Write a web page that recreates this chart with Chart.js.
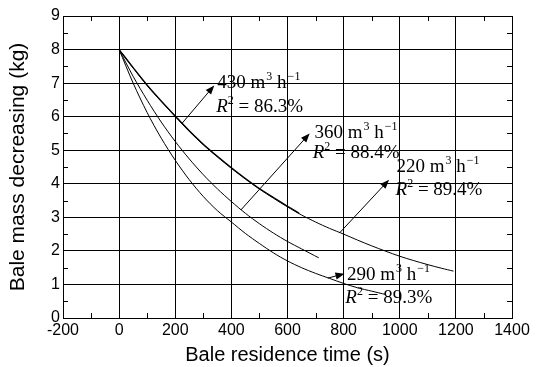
<!DOCTYPE html>
<html>
<head>
<meta charset="utf-8">
<script src="https://cdn.jsdelivr.net/npm/chart.js@4"></script>
<style>html,body{margin:0;padding:0;background:#fff}</style>
</head>
<body>
<canvas id="chart" width="547" height="367"></canvas>
<script>
// residence time (s) and bale mass (kg)
const time220 = [0, 50, 100, 150, 200, 250, 300, 350, 400, 450, 500, 550, 600, 650, 700, 750, 800, 850, 900, 950, 1000, 1050, 1100, 1150, 1190];
const mass220 = [8.0, 7.45, 6.92, 6.45, 6.0, 5.56, 5.16, 4.8, 4.46, 4.14, 3.84, 3.57, 3.31, 3.07, 2.86, 2.67, 2.5, 2.32, 2.15, 1.99, 1.84, 1.71, 1.59, 1.48, 1.4];

const time430 = [0, 50, 100, 150, 200, 250, 300, 350, 400, 450, 500, 550, 600, 640];
const mass430 = [8.0, 7.46, 6.94, 6.47, 6.02, 5.58, 5.18, 4.82, 4.48, 4.16, 3.86, 3.59, 3.33, 3.13];

const time360 = [0, 50, 100, 150, 200, 250, 300, 350, 400, 450, 500, 550, 600, 650, 710];
const mass360 = [8.0, 7.2, 6.49, 5.84, 5.26, 4.74, 4.27, 3.85, 3.47, 3.12, 2.81, 2.53, 2.28, 2.06, 1.8];

const time290 = [0, 50, 100, 150, 200, 250, 300, 350, 400, 450, 500, 550, 600, 650, 700, 750, 800, 850, 900, 950];
const mass290 = [8.0, 7.0, 6.12, 5.36, 4.7, 4.12, 3.62, 3.2, 2.86, 2.52, 2.22, 1.94, 1.7, 1.5, 1.33, 1.18, 1.03, 0.9, 0.8, 0.7];

const xTicks = [-200, 0, 200, 400, 600, 800, 1000, 1200, 1400];
const yTicks = [0, 1, 2, 3, 4, 5, 6, 7, 8, 9];

// labels: flow rate, R², arrow tail (on curve), arrow head, text anchor, R² anchor
const notes = [
  { rate: '430', r2: '86.3%', tail: [225, 5.81], head: [339, 6.93], text: [350, 6.85], r2at: [346, 6.15] },
  { rate: '360', r2: '88.4%', tail: [434, 3.22], head: [679, 5.5], text: [696, 5.37], r2at: [690, 4.77] },
  { rate: '220', r2: '89.4%', tail: [786, 2.54], head: [962, 4.12], text: [988, 4.36], r2at: [985, 3.67] },
  { rate: '290', r2: '89.3%', tail: [744, 1.19], head: [803, 1.32], text: [812, 1.14], r2at: [806, 0.45] }
];

const pts = (xs, ys) => xs.map((x, i) => ({ x: x, y: ys[i] }));

const serif = '"Liberation Serif", "Times New Roman", serif';
const sans = 'Liberation Sans, Arial, sans-serif';

function drawNotes(chart) {
  const ctx = chart.ctx;
  const xs = chart.scales.x, ys = chart.scales.y;
  const P = p => [xs.getPixelForValue(p[0]), ys.getPixelForValue(p[1])];
  ctx.save();
  ctx.fillStyle = '#000';
  ctx.strokeStyle = '#000';
  ctx.lineWidth = 1;
  ctx.textBaseline = 'alphabetic';
  notes.forEach(n => {
    const [tx, ty] = P(n.tail), [hx, hy] = P(n.head);
    const a = Math.atan2(hy - ty, hx - tx);
    ctx.beginPath();
    ctx.moveTo(tx, ty);
    ctx.lineTo(hx - 6 * Math.cos(a), hy - 6 * Math.sin(a));
    ctx.stroke();
    ctx.beginPath();
    ctx.moveTo(hx, hy);
    ctx.lineTo(hx - 9 * Math.cos(a) + 3.5 * Math.sin(a), hy - 9 * Math.sin(a) - 3.5 * Math.cos(a));
    ctx.lineTo(hx - 9 * Math.cos(a) - 3.5 * Math.sin(a), hy - 9 * Math.sin(a) + 3.5 * Math.cos(a));
    ctx.closePath();
    ctx.fill();

    let [x, y] = P(n.text);
    ctx.font = '19px ' + serif;
    let s = n.rate + ' m';
    ctx.fillText(s, x, y); x += ctx.measureText(s).width + 1;
    ctx.font = '12px ' + serif;
    ctx.fillText('3', x, y - 8); x += ctx.measureText('3').width;
    ctx.font = '19px ' + serif;
    ctx.fillText(' h', x, y); x += ctx.measureText(' h').width + 1;
    ctx.font = '12px ' + serif;
    ctx.fillText('\u22121', x, y - 8);

    [x, y] = P(n.r2at);
    ctx.font = 'italic 19px ' + serif;
    ctx.fillText('R', x, y); x += ctx.measureText('R').width;
    ctx.font = '12px ' + serif;
    ctx.fillText('2', x, y - 8); x += ctx.measureText('2').width;
    ctx.font = '19px ' + serif;
    ctx.fillText(' = ' + n.r2, x, y);
  });
  ctx.restore();
}

// short inward minor ticks on all four sides
function drawMinor(chart) {
  const ctx = chart.ctx, a = chart.chartArea;
  const xs = chart.scales.x, ys = chart.scales.y;
  ctx.save();
  ctx.strokeStyle = '#000';
  ctx.lineWidth = 1;
  ctx.beginPath();
  for (let v = -100; v < 1400; v += 200) {
    const p = Math.round(xs.getPixelForValue(v)) + 0.5;
    ctx.moveTo(p, a.bottom); ctx.lineTo(p, a.bottom - 5);
    ctx.moveTo(p, a.top); ctx.lineTo(p, a.top + 5);
  }
  for (let v = 0.5; v < 9; v += 1) {
    const p = Math.round(ys.getPixelForValue(v)) + 0.5;
    ctx.moveTo(a.left, p); ctx.lineTo(a.left + 5, p);
    ctx.moveTo(a.right, p); ctx.lineTo(a.right - 5, p);
  }
  ctx.stroke();
  ctx.restore();
}

const line = (data, w) => ({
  data: data, borderColor: '#000', borderWidth: w, pointRadius: 0,
  fill: false, tension: 0.3, borderCapStyle: 'round'
});

new Chart(document.getElementById('chart'), {
  type: 'line',
  data: {
    datasets: [
      line(pts(time220, mass220), 1),
      line(pts(time430, mass430), 1.3),
      line(pts(time360, mass360), 1),
      line(pts(time290, mass290), 1)
    ]
  },
  options: {
    responsive: false,
    animation: false,
    layout: { padding: { left: 0, right: 35, top: 16, bottom: 0 } },
    plugins: { legend: { display: false }, tooltip: { enabled: false } },
    scales: {
      x: {
        type: 'linear', min: -200, max: 1400,
        afterBuildTicks: s => { s.ticks = xTicks.map(v => ({ value: v })); },
        afterFit: s => { s.height = 49; },
        grid: { color: '#000', lineWidth: 1, drawTicks: false },
        border: { color: '#000', width: 1 },
        ticks: { color: '#000', padding: 3, maxRotation: 0, autoSkip: false,
                 callback: v => String(v),
                 font: { family: sans, size: 16 } },
        title: { display: true, text: 'Bale residence time (s)', color: '#000',
                 padding: { top: 0, bottom: 0 },
                 font: { family: sans, size: 20 } }
      },
      y: {
        type: 'linear', min: 0, max: 9,
        afterBuildTicks: s => { s.ticks = yTicks.map(v => ({ value: v })); },
        afterFit: s => { s.width = 63; },
        grid: { color: '#000', lineWidth: 1, drawTicks: false },
        border: { color: '#000', width: 1 },
        ticks: { color: '#000', padding: 3, callback: v => String(v),
                 font: { family: sans, size: 16 } },
        title: { display: true, text: 'Bale mass decreasing (kg)', color: '#000',
                 padding: { top: 6, bottom: 0 },
                 font: { family: sans, size: 21 } }
      }
    }
  },
  plugins: [{
    id: 'extras',
    afterDatasetsDraw: chart => { drawMinor(chart); drawNotes(chart); }
  }]
});
</script>
</body>
</html>
